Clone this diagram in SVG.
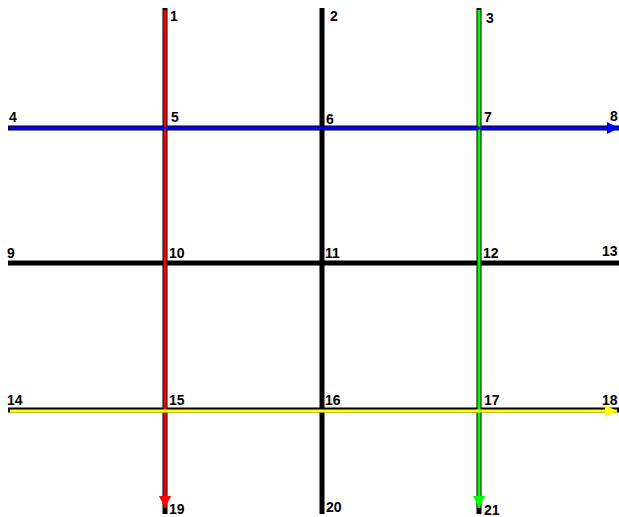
<svg xmlns="http://www.w3.org/2000/svg" width="619" height="517" viewBox="0 0 619 517">
<style>
.base{stroke:#000;stroke-width:5;fill:none}
.lbl{font-family:"Liberation Sans",Arial,sans-serif;font-weight:bold;font-size:14px;fill:#000}
</style>
<defs>
<marker id="aRed" viewBox="0 0 10 10" refX="10" refY="5" markerWidth="4" markerHeight="4" orient="auto" markerUnits="strokeWidth"><path d="M0,0 L10,5 L0,10 z" fill="#f00"/></marker>
<marker id="aGreen" viewBox="0 0 10 10" refX="10" refY="5" markerWidth="4" markerHeight="4" orient="auto" markerUnits="strokeWidth"><path d="M0,0 L10,5 L0,10 z" fill="#0f0"/></marker>
<marker id="aBlue" viewBox="0 0 10 10" refX="10" refY="5" markerWidth="4" markerHeight="4" orient="auto" markerUnits="strokeWidth"><path d="M0,0 L10,5 L0,10 z" fill="#00f"/></marker>
<marker id="aYellow" viewBox="0 0 10 10" refX="10" refY="5" markerWidth="4" markerHeight="4" orient="auto" markerUnits="strokeWidth"><path d="M0,0 L10,5 L0,10 z" fill="#ff0"/></marker>
</defs>
<g id="connectors">
<line class="base" x1="165" y1="8" x2="165" y2="514"/>
<line class="base" x1="322" y1="8" x2="322" y2="514"/>
<line class="base" x1="479" y1="8" x2="479" y2="514"/>
<line class="base" x1="8" y1="128" x2="619" y2="128"/>
<line class="base" x1="8" y1="263" x2="619" y2="263"/>
<line class="base" x1="8" y1="410" x2="619" y2="410"/>
<line x1="165" y1="10" x2="165" y2="508" stroke="#f00" stroke-width="3" marker-end="url(#aRed)"/>
<line x1="479" y1="10" x2="479" y2="508" stroke="#0f0" stroke-width="3" marker-end="url(#aGreen)"/>
<line x1="10" y1="128" x2="619" y2="128" stroke="#00f" stroke-width="3" marker-end="url(#aBlue)"/>
<line x1="10" y1="411" x2="617" y2="411" stroke="#ff0" stroke-width="3" marker-end="url(#aYellow)"/>
</g>
<g id="n1"><text class="lbl" x="170" y="21">1</text></g>
<g id="n2"><text class="lbl" x="330" y="21">2</text></g>
<g id="n3"><text class="lbl" x="486" y="23">3</text></g>
<g id="n4"><text class="lbl" x="9" y="122">4</text></g>
<g id="n5"><text class="lbl" x="171" y="122">5</text></g>
<g id="n6"><text class="lbl" x="326" y="124">6</text></g>
<g id="n7"><text class="lbl" x="484" y="122">7</text></g>
<g id="n8"><text class="lbl" x="610" y="121">8</text></g>
<g id="n9"><text class="lbl" x="7" y="258">9</text></g>
<g id="n10"><text class="lbl" x="169" y="258">10</text></g>
<g id="n11"><text class="lbl" x="325" y="258">11</text></g>
<g id="n12"><text class="lbl" x="483" y="258">12</text></g>
<g id="n13"><text class="lbl" x="602" y="256">13</text></g>
<g id="n14"><text class="lbl" x="7" y="405">14</text></g>
<g id="n15"><text class="lbl" x="169" y="405">15</text></g>
<g id="n16"><text class="lbl" x="325" y="405">16</text></g>
<g id="n17"><text class="lbl" x="484" y="405">17</text></g>
<g id="n18"><text class="lbl" x="602" y="405">18</text></g>
<g id="n19"><text class="lbl" x="169" y="514">19</text></g>
<g id="n20"><text class="lbl" x="326" y="512">20</text></g>
<g id="n21"><text class="lbl" x="484" y="515">21</text></g>
</svg>
